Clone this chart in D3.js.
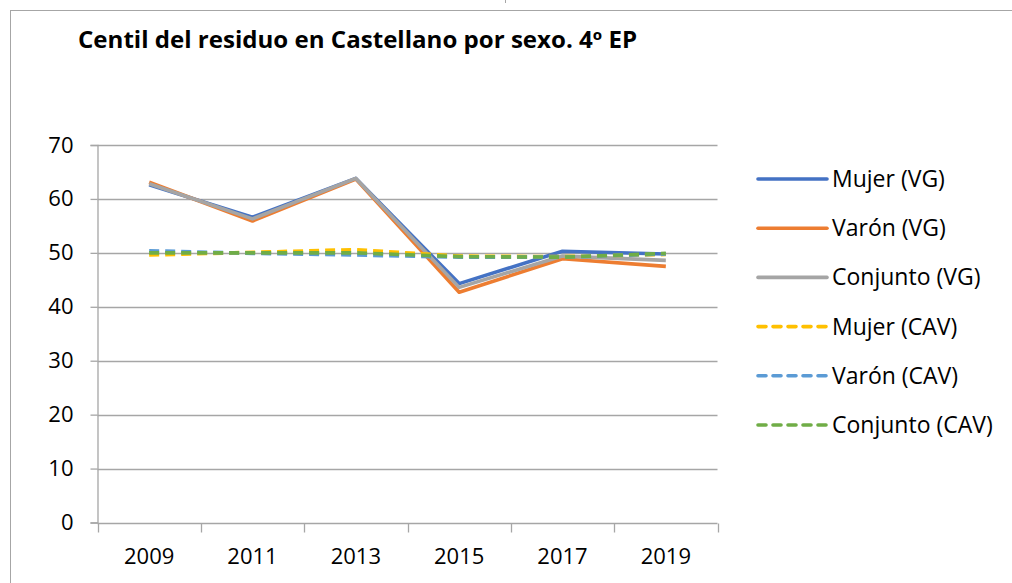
<!DOCTYPE html>
<html>
<head>
<meta charset="utf-8">
<script src="https://cdn.jsdelivr.net/npm/d3@7"></script>
<style>
  html, body { margin: 0; padding: 0; background: #fff; }
  svg { display: block; font-family: "Open Sans", Lato, sans-serif; }
</style>
</head>
<body>
<svg id="chart" width="1012" height="583"></svg>
<script>
// Centil del residuo en Castellano, 4º EP
const years = ["2009", "2011", "2013", "2015", "2017", "2019"];
const yTicks = [0, 10, 20, 30, 40, 50, 60, 70];

const mujerVG    = [62.6, 56.6, 63.8, 44.3, 50.3, 49.8];
const varonVG    = [63.1, 55.9, 63.7, 42.7, 48.9, 47.5];
const conjuntoVG = [62.8, 56.3, 63.8, 43.6, 49.4, 48.6];
const mujerCAV    = [49.6, 50.1, 50.6, 49.4, 49.3, 49.7];
const varonCAV    = [50.4, 49.9, 49.6, 49.2, 49.2, 49.8];
const conjuntoCAV = [50.0, 50.0, 50.0, 49.3, 49.2, 49.9];

const seriesNames = ["Mujer (VG)", "Varón (VG)", "Conjunto (VG)", "Mujer (CAV)", "Varón (CAV)", "Conjunto (CAV)"];
const seriesValues = [mujerVG, varonVG, conjuntoVG, mujerCAV, varonCAV, conjuntoCAV];
const seriesColors = ["#4472C4", "#ED7D31", "#A5A5A5", "#FFC000", "#5B9BD5", "#70AD47"];
const seriesDashed = [false, false, false, true, true, true];

const svg = d3.select("#chart");
const plotLeft = 97.5, plotRight = 717.5, plotTop = 145, plotBottom = 522.5;

// outer chart frame
svg.append("rect")
  .attr("x", 10.5).attr("y", 10.5)
  .attr("width", 1010).attr("height", 600)
  .attr("fill", "none").attr("stroke", "#a6a6a6").attr("stroke-width", 1);
svg.append("line")
  .attr("x1", 505.5).attr("x2", 505.5).attr("y1", 0).attr("y2", 3)
  .attr("stroke", "#a6a6a6");

svg.append("text")
  .attr("x", 78).attr("y", 48)
  .attr("font-size", 23).attr("font-weight", "bold")
  .attr("textLength", 559).attr("lengthAdjust", "spacingAndGlyphs")
  .text("Centil del residuo en Castellano por sexo. 4º EP");

const x = d3.scaleBand().domain(years).range([plotLeft, plotRight]);
const y = d3.scaleLinear().domain([0, 70]).range([plotBottom, plotTop]);

// horizontal gridlines
svg.append("g").selectAll("line").data(yTicks.filter(t => t > 0)).join("line")
  .attr("x1", plotLeft).attr("x2", plotRight)
  .attr("y1", d => Math.round(y(d)) + 0.5).attr("y2", d => Math.round(y(d)) + 0.5)
  .attr("stroke", "#a6a6a6").attr("stroke-width", 1.3);

// y axis
const yAxis = svg.append("g").attr("transform", `translate(${plotLeft},0)`)
  .call(d3.axisLeft(y).tickValues(yTicks).tickSize(7).tickPadding(17).tickFormat(d3.format("d")));
yAxis.select(".domain").attr("stroke", "#a6a6a6").attr("stroke-width", 1.3);
yAxis.selectAll(".tick line").attr("stroke", "#a6a6a6").attr("stroke-width", 1.3);
yAxis.selectAll(".tick text").attr("font-size", 22).attr("fill", "#000")
  .attr("font-family", "'Open Sans', Lato, sans-serif");

// x axis with boundary ticks between categories
const xAxisY = Math.round(y(0)) + 0.5;
svg.append("line").attr("x1", plotLeft).attr("x2", plotRight).attr("y1", xAxisY).attr("y2", xAxisY)
  .attr("stroke", "#a6a6a6").attr("stroke-width", 1.3);
const bounds = years.map(d => x(d)).concat([plotRight]);
svg.append("g").selectAll("line").data(bounds).join("line")
  .attr("x1", d => Math.round(d) + 0.5).attr("x2", d => Math.round(d) + 0.5)
  .attr("y1", xAxisY).attr("y2", xAxisY + 9)
  .attr("stroke", "#a6a6a6").attr("stroke-width", 1.3);
svg.append("g").selectAll("text").data(years).join("text")
  .attr("x", d => x(d) + x.bandwidth() / 2).attr("y", 564)
  .attr("text-anchor", "middle").attr("font-size", 22).attr("fill", "#000")
  .text(d => d);

// series lines
const line = d3.line()
  .x((d, i) => x(years[i]) + x.bandwidth() / 2)
  .y(d => y(d));
seriesValues.forEach((vals, i) => {
  svg.append("path")
    .datum(vals)
    .attr("d", line)
    .attr("fill", "none")
    .attr("stroke", seriesColors[i])
    .attr("stroke-width", 3.6)
    .attr("stroke-linejoin", "round")
    .attr("stroke-dasharray", seriesDashed[i] ? "10,6" : null);
});

// legend
const legend = svg.append("g");
seriesNames.forEach((name, i) => {
  const ly = 179 + i * 49.2;
  legend.append("line")
    .attr("x1", 758).attr("x2", 827).attr("y1", ly).attr("y2", ly)
    .attr("stroke", seriesColors[i]).attr("stroke-width", 3.6)
    .attr("stroke-linecap", "round")
    .attr("stroke-dasharray", seriesDashed[i] ? "8,7" : null);
  legend.append("text")
    .attr("x", 832).attr("y", ly + 8)
    .attr("font-size", 23).attr("fill", "#000")
    .text(name);
});
</script>
</body>
</html>
